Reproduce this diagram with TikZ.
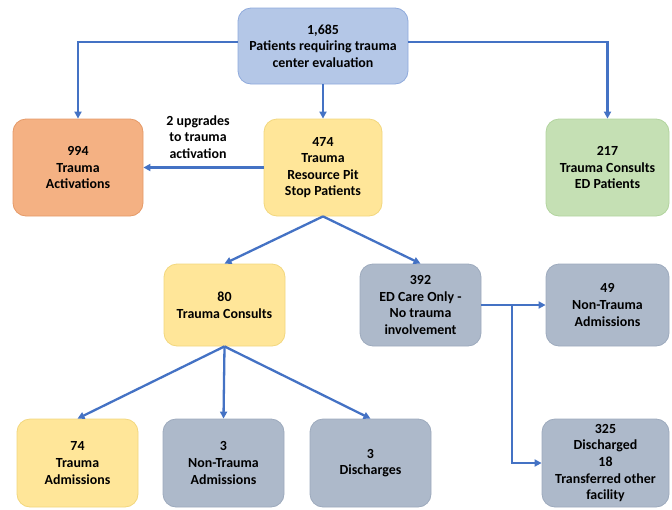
\documentclass[tikz,border=0pt]{standalone}
\usepackage{fontspec}
\setmainfont{Carlito}
\usetikzlibrary{arrows.meta}
\definecolor{bluefill}{HTML}{B4C7E7}
\definecolor{blueline}{HTML}{8FAADC}
\definecolor{orangefill}{HTML}{F4B183}
\definecolor{orangeline}{HTML}{E59A68}
\definecolor{yellowfill}{HTML}{FFE699}
\definecolor{yellowline}{HTML}{F2D77E}
\definecolor{greenfill}{HTML}{C5E0B4}
\definecolor{greenline}{HTML}{B2D49E}
\definecolor{grayfill}{HTML}{ADB9CA}
\definecolor{grayline}{HTML}{9DAABD}
\definecolor{arrowblue}{HTML}{4472C4}
\tikzset{
  box/.style={rounded corners=13pt, inner sep=0pt, align=center,
    font=\bfseries\fontsize{13.9}{16.6}\selectfont, line width=0.8pt},
  bluebox/.style={box, fill=bluefill, draw=blueline},
  orangebox/.style={box, fill=orangefill, draw=orangeline},
  yellowbox/.style={box, fill=yellowfill, draw=yellowline},
  greenbox/.style={box, fill=greenfill, draw=greenline},
  graybox/.style={box, fill=grayfill, draw=grayline},
  conn/.style={draw=arrowblue, line width=2.3pt, -{Triangle[length=7pt,width=7pt]}},
  lbl/.style={align=center, font=\bfseries\fontsize{13.9}{16.6}\selectfont}
}
\begin{document}
\begin{tikzpicture}[x=1pt,y=-1pt]
\useasboundingbox (0,0) rectangle (672,509);
% boxes
\node[bluebox, minimum width=170pt, minimum height=76pt] (top) at (323,46) {1,685\\Patients requiring trauma\\center evaluation};
\node[orangebox, minimum width=130pt, minimum height=97pt] (ta) at (78,167.5) {994\\Trauma\\Activations};
\node[yellowbox, minimum width=118pt, minimum height=97pt] (pit) at (323,167.5) {474\\Trauma\\Resource Pit\\Stop Patients};
\node[greenbox, minimum width=123pt, minimum height=97pt] (ed) at (607.5,167.5) {217\\Trauma Consults\\ED Patients};
\node[yellowbox, minimum width=121pt, minimum height=82pt] (tc) at (224.5,305) {80\\Trauma Consults};
\node[graybox, minimum width=121pt, minimum height=82pt] (edc) at (420.5,305) {392\\ED Care Only -\\No trauma\\involvement};
\node[graybox, minimum width=123pt, minimum height=82pt] (nta1) at (607.5,305) {49\\Non-Trauma\\Admissions};
\node[yellowbox, minimum width=121pt, minimum height=88pt] (tadm) at (77.5,463) {74\\Trauma\\Admissions};
\node[graybox, minimum width=121pt, minimum height=88pt] (nta2) at (223.5,463) {3\\Non-Trauma\\Admissions};
\node[graybox, minimum width=121pt, minimum height=88pt] (dis) at (370.5,463) {3\\Discharges};
\node[graybox, minimum width=127pt, minimum height=88pt] (dc) at (605.5,463) {325\\Discharged\\18\\Transferred other\\facility};
% label
\node[lbl] (up) at (198,137) {2 upgrades\\to trauma\\activation};
% connectors
\draw[conn] (top.west |- 0,42) -| (ta.north);
\draw[conn] (top.east |- 0,42) -| (ed.north);
\draw[conn] (top.south) -- (pit.north);
\draw[conn] (pit.west) -- (ta.east);
\draw[conn] (pit.south) -- (tc.north);
\draw[conn] (pit.south) -- (edc.north);
\draw[conn] (tc.south) -- (tadm.north);
\draw[conn] (tc.south) -- (nta2.north);
\draw[conn] (tc.south) -- (dis.north);
\coordinate (split) at (512,305);
\draw[conn] (edc.east) -- (nta1.west);
\draw[conn] (split) |- (dc.west);
\end{tikzpicture}
\end{document}
